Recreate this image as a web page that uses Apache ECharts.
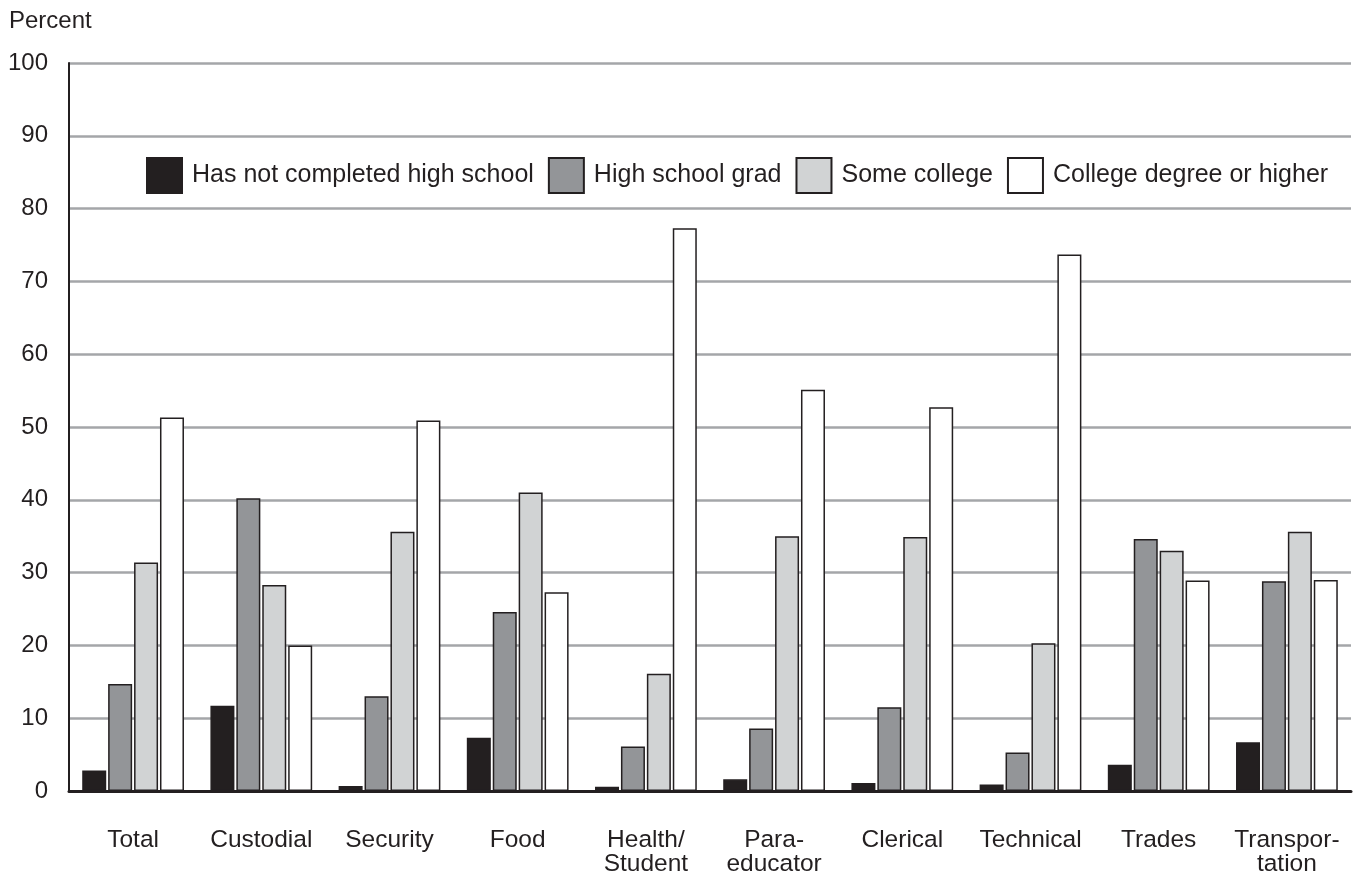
<!DOCTYPE html>
<html>
<head>
<meta charset="utf-8">
<script src="https://cdn.jsdelivr.net/npm/echarts@6/dist/echarts.min.js"></script>
<style>
html,body{margin:0;padding:0;background:#fff;}
#chart{width:1357px;height:883px;}
</style>
</head>
<body>
<div id="chart"></div>
<script>
const categories = ['Total','Custodial','Security','Food','Health/\nStudent','Para-\neducator','Clerical','Technical','Trades','Transpor-\ntation'];
const seriesNames = ['Has not completed high school','High school grad','Some college','College degree or higher'];
const notCompleted = [2.8, 11.7, 0.7, 7.3, 0.6, 1.6, 1.1, 0.9, 3.6, 6.7];
const hsGrad = [14.7, 40.2, 13.0, 24.6, 6.1, 8.6, 11.5, 5.3, 34.6, 28.8];
const someCollege = [31.4, 28.3, 35.6, 41.0, 16.1, 35.0, 34.9, 20.3, 33.0, 35.6];
const collegeDegree = [51.3, 20.0, 50.9, 27.3, 77.3, 55.1, 52.7, 73.7, 28.9, 29.0];
const yTicks = [0,10,20,30,40,50,60,70,80,90,100];

const colors = ['#231f20','#939598','#d1d3d4','#ffffff'];
const FONT = '"Liberation Sans", Arial, Helvetica, sans-serif';
const TXT = '#231f20';

const chart = echarts.init(document.getElementById('chart'), null, {renderer:'canvas'});
const dataSets = [notCompleted, hsGrad, someCollege, collegeDegree];

chart.setOption({
  animation:false,
  backgroundColor:'#fff',
  title:{
    text:'Percent', left:9, top:9, padding:0,
    textStyle:{fontFamily:FONT, fontSize:24, fontWeight:'normal', color:TXT}
  },
  legend:{
    left:141, top:152, padding:5,
    itemWidth:35, itemHeight:35, itemGap:14,
    icon:'rect',
    textStyle:{fontFamily:FONT, fontSize:25, color:TXT, padding:[0,0,0,5]},
    data:seriesNames
  },
  grid:{left:69, right:6, top:63, bottom:92, containLabel:false},
  xAxis:{
    type:'category',
    data:categories,
    axisLine:{show:true, lineStyle:{color:'#231f20', width:3}},
    axisTick:{show:false},
    axisLabel:{fontFamily:FONT, fontSize:24.5, color:TXT, margin:37, lineHeight:24, interval:0}
  },
  yAxis:{
    type:'value', min:0, max:100, interval:10,
    axisLine:{show:true, lineStyle:{color:'#231f20', width:2}},
    axisTick:{show:false},
    axisLabel:{fontFamily:FONT, fontSize:24, color:TXT, margin:21},
    splitLine:{show:true, lineStyle:{color:'#a4a6a9', width:2.5}}
  },
  series: seriesNames.map((name,i)=>({
    name:name,
    type:'bar',
    data:dataSets[i],
    barWidth:24,
    barGap:'8%',
    itemStyle:{color:colors[i], borderColor:'#231f20', borderWidth:1.5},
    z:3
  }))
});
</script>
</body>
</html>
